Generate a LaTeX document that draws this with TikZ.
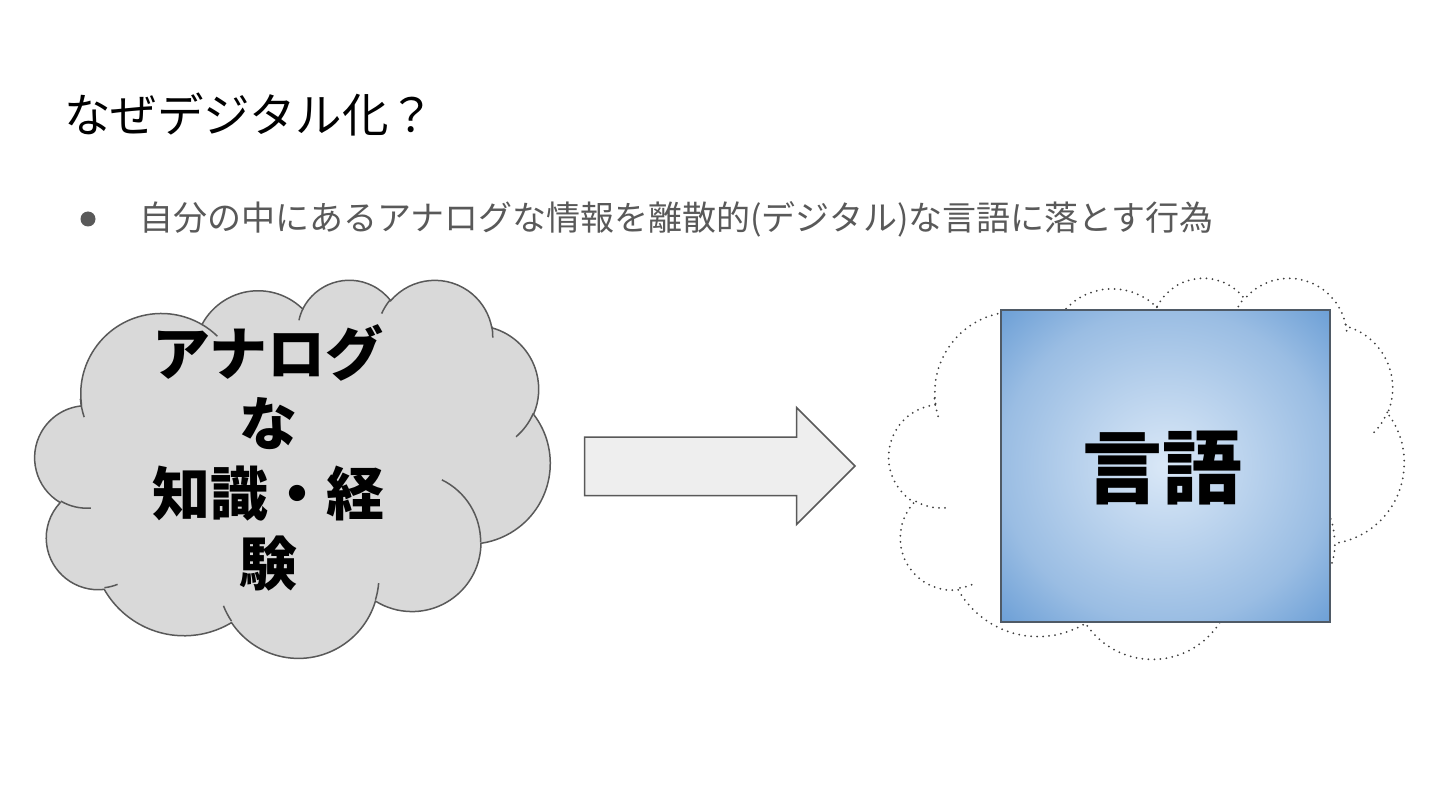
\documentclass[tikz,border=0pt]{standalone}
\usepackage{fontspec}
\newfontfamily\jp{Noto Sans CJK JP}
\definecolor{linegray}{HTML}{595959}
\definecolor{dotgray}{HTML}{404040}
\definecolor{textgray}{HTML}{595959}
\definecolor{cloudfill}{HTML}{D9D9D9}
\definecolor{arrowfill}{HTML}{EEEEEE}
\definecolor{sqborder}{HTML}{4F5A66}
\definecolor{sqc1}{HTML}{DAE8F7}
\definecolor{sqc2}{HTML}{9ABDE3}
\definecolor{sqc3}{HTML}{6C9FD6}
\pgfdeclareradialshading{langshade}{\pgfpoint{0bp}{0bp}}{color(0bp)=(sqc1); color(25bp)=(sqc2); color(35.5bp)=(sqc3); color(50bp)=(sqc3)}
\newcommand\drawpptcloud[1]{%
\path[#1] (39.00,143.70)
 arc[start angle=-187.75,end angle=-59.63,x radius=67.53,y radius=91.90]
 arc[start angle=-152.03,end angle=-45.41,x radius=53.33,y radius=72.67]
 arc[start angle=-153.49,end angle=-37.32,x radius=43.65,y radius=59.45]
 arc[start angle=-139.72,end angle=-10.21,x radius=48.57,y radius=65.95]
 arc[start angle=-74.77,end angle=23.21,x radius=53.33,y radius=72.73]
 arc[start angle=-37.52,end angle=81.86,x radius=67.75,y radius=92.20]
 arc[start angle=0.46,end angle=121.98,x radius=57.85,y radius=78.67]
 arc[start angle=16.84,end angle=146.22,x radius=67.52,y radius=92.15]
 arc[start angle=58.99,end angle=150.20,x radius=77.20,y radius=105.43]
 arc[start angle=-276.69,end angle=-136.92,x radius=43.60,y radius=59.18]
 arc[start angle=-239.64,end angle=-95.89,x radius=43.45,y radius=59.45]
 -- cycle;}
\newcommand\drawpptcloudinner[1]{%
\path[#1]
 (46.93,261.77) arc[start angle=85.55,end angle=120.36,x radius=43.45,y radius=59.45]
 (69.28,348.99) arc[start angle=68.24,end angle=83.31,x radius=43.60,y radius=59.18]
 (164.78,390.90) arc[start angle=146.22,end angle=158.47,x radius=67.52,y radius=92.15]
 (288.27,347.51) arc[start angle=4.74,end angle=16.84,x radius=67.52,y radius=92.15]
 (341.29,229.54) arc[start angle=-64.03,end angle=0.46,x radius=57.85,y radius=78.67]
 (417.98,153.54) arc[start angle=23.21,end angle=49.64,x radius=53.33,y radius=72.73]
 (383.24,54.26) arc[start angle=-10.21,end angle=0.82,x radius=48.57,y radius=65.95]
 (290.78,39.52) arc[start angle=-156.28,end angle=-139.72,x radius=48.57,y radius=65.95]
 (221.41,47.20) arc[start angle=-167.73,end angle=-153.49,x radius=43.65,y radius=59.45]
 (140.00,51.92) arc[start angle=-59.63,end angle=-45.72,x radius=67.53,y radius=91.90]
 (41.27,157.89) arc[start angle=161.60,end angle=174.90,x radius=67.53,y radius=91.90];}
\tikzset{
  solidcloud/.style={draw=linegray, fill=cloudfill, line width=1.5pt},
  solidcloudinner/.style={draw=linegray, line width=1.5pt},
  dotcloud/.style={draw=dotgray, line width=2pt, line cap=round, dash pattern=on 0pt off 6pt},
  blockarrow/.style={draw=linegray, fill=arrowfill, line width=1.5pt, line join=miter},
  plain/.style={inner sep=0pt, outer sep=0pt},
}
\begin{document}
\begin{tikzpicture}[x=1pt, y=-1pt]
\useasboundingbox[fill=white] (0,0) rectangle (1440,810);
% title
\node[plain, anchor=west, font=\jp\fontsize{46.5}{52}\selectfont] (title) at (64,115) {なぜデジタル化？};
% bullet line
\fill[textgray] (88,219) circle[radius=7.5];
\node[plain, anchor=west, text=textgray, font=\jp\fontsize{34}{40}\selectfont] (bullet) at (139,219) {自分の中にあるアナログな情報を離散的(デジタル)な言語に落とす行為};
% left cloud
\begin{scope}[shift={(35,279)}, x=1.19213pt, y=-0.875pt]
  \drawpptcloud{solidcloud}
  \drawpptcloudinner{solidcloudinner}
\end{scope}
\node[plain, align=center, font=\jp\bfseries\fontsize{58}{70}\selectfont] (analog) at (268,458) {アナログ\\な\\知識・経\\験};
% block arrow
\draw[blockarrow] (584.5,437) -- (796.5,437) -- (796.5,407.5) -- (855,466) -- (796.5,524.5) -- (796.5,495.5) -- (584.5,495.5) -- cycle;
% right dotted cloud
\begin{scope}[shift={(889,277)}, x=1.19213pt, y=-0.88194pt]
  \drawpptcloud{dotcloud}
  \drawpptcloudinner{dotcloud}
\end{scope}
% square
\shade[shading=langshade] (1001,310) rectangle (1330,622);
\draw[sqborder, line width=2pt] (1001,310) rectangle (1330,622);
\node[plain, font=\jp\bfseries\fontsize{80}{90}\selectfont] (lang) at (1162,468) {言語};
\end{tikzpicture}
\end{document}
